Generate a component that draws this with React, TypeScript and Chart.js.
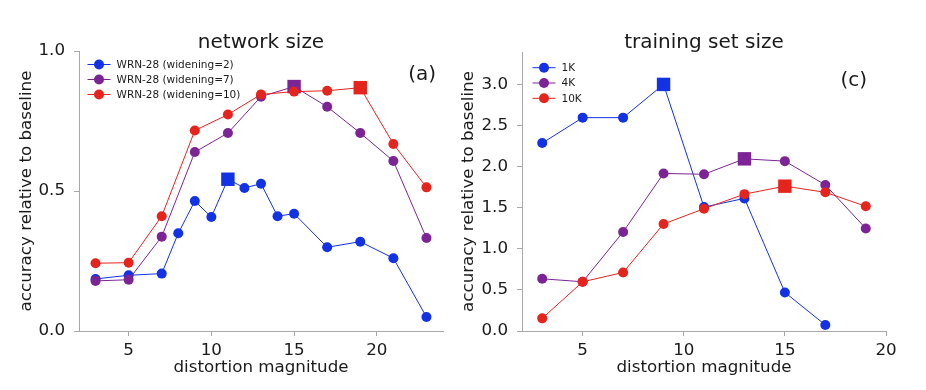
import React, { useEffect, useRef } from 'react';
import { Chart, registerables } from 'chart.js';

Chart.register(...registerables);

// ---------- data: panel (a) network size ----------
const distortionW2 = [3, 5, 7, 8, 9, 10, 11, 12, 13, 14, 15, 17, 19, 21, 23];
const accW2 = [0.186, 0.199, 0.205, 0.349, 0.464, 0.407, 0.542, 0.511, 0.526, 0.41, 0.419, 0.299, 0.319, 0.26, 0.05];
const distortionW7 = [3, 5, 7, 9, 11, 13, 15, 17, 19, 21, 23];
const accW7 = [0.179, 0.183, 0.337, 0.639, 0.707, 0.837, 0.873, 0.801, 0.707, 0.607, 0.332];
const distortionW10 = [3, 5, 7, 9, 11, 13, 15, 17, 19, 21, 23];
const accW10 = [0.242, 0.244, 0.41, 0.716, 0.773, 0.845, 0.855, 0.858, 0.869, 0.668, 0.513];

// ---------- data: panel (c) training set size ----------
const distortion1K = [3, 5, 7, 9, 11, 13, 15, 17];
const acc1K = [2.29, 2.6, 2.6, 3.005, 1.51, 1.616, 0.47, 0.073];
const distortion4K = [3, 5, 7, 9, 11, 13, 15, 17, 19];
const acc4K = [0.636, 0.6, 1.207, 1.92, 1.91, 2.098, 2.07, 1.78, 1.25];
const distortion10K = [3, 5, 7, 9, 11, 13, 15, 17, 19];
const acc10K = [0.154, 0.6, 0.713, 1.304, 1.49, 1.668, 1.765, 1.69, 1.52];

// ---------- ticks ----------
const xTicksA = [5, 10, 15, 20];
const yTicksA = [0, 0.5, 1.0];
const xTicksC = [5, 10, 15, 20];
const yTicksC = [0, 0.5, 1.0, 1.5, 2.0, 2.5, 3.0];

const BLUE = '#1232e4';
const PURPLE = '#7c2496';
const RED = '#e5241e';
const FONT = '"DejaVu Sans", "Liberation Sans", sans-serif';
const SPINE = '#a8a8a8';
const TEXT = '#1a1a1a';

function series(label: string, xs: number[], ys: number[], color: string, order: number) {
  const maxI = ys.indexOf(Math.max(...ys));
  return {
    label,
    data: xs.map((x, i) => ({ x, y: ys[i] })),
    borderColor: color,
    backgroundColor: color,
    borderWidth: 1,
    pointStyle: ys.map((_, i) => (i === maxI ? 'rect' : 'circle')),
    pointRadius: ys.map((_, i) => (i === maxI ? 9.5 : 5)),
    pointHoverRadius: ys.map((_, i) => (i === maxI ? 9.5 : 5)),
    pointBorderWidth: 0,
    pointBackgroundColor: color,
    tension: 0,
    clip: false as any,
    order,
  };
}

type Overlay = {
  title: string;
  titleY: number;
  tag: string;
  tagX: number;
  tagY: number;
  legendX: number;
  legendY: number;
  legendDy: number;
  legendFont: number;
};

function overlayPlugin(o: Overlay) {
  return {
    id: 'overlay',
    afterDraw(chart: any) {
      const ctx = chart.ctx as CanvasRenderingContext2D;
      const area = chart.chartArea;
      ctx.save();
      // title
      ctx.fillStyle = TEXT;
      ctx.font = `20px ${FONT}`;
      ctx.textAlign = 'center';
      ctx.textBaseline = 'alphabetic';
      ctx.fillText(o.title, (area.left + area.right) / 2, o.titleY);
      // tag
      ctx.textAlign = 'right';
      ctx.fillText(o.tag, o.tagX, o.tagY);
      // legend
      ctx.font = `${o.legendFont}px ${FONT}`;
      ctx.textAlign = 'left';
      ctx.textBaseline = 'middle';
      chart.data.datasets.forEach((ds: any, i: number) => {
        const y = o.legendY + i * o.legendDy;
        ctx.strokeStyle = ds.borderColor;
        ctx.lineWidth = 1;
        ctx.beginPath();
        ctx.moveTo(o.legendX - 11.5, y);
        ctx.lineTo(o.legendX + 11.5, y);
        ctx.stroke();
        ctx.fillStyle = ds.borderColor;
        ctx.beginPath();
        ctx.arc(o.legendX, y, 5, 0, Math.PI * 2);
        ctx.fill();
        ctx.fillStyle = TEXT;
        ctx.fillText(ds.label, o.legendX + 17.5, y + 0.5);
      });
      ctx.restore();
    },
  };
}

function makeOptions(p: {
  xmin: number; xmax: number; ymin: number; ymax: number;
  xTicks: number[]; yTicks: number[];
  padTop: number; padRight: number; yWidth: number; yTitlePad: number;
}) {
  const tickFont = { family: FONT, size: 16.7 };
  return {
    animation: false as const,
    responsive: false,
    maintainAspectRatio: false,
    events: [] as any[],
    layout: { padding: { top: p.padTop, right: p.padRight, left: 0, bottom: 0 } },
    plugins: { legend: { display: false }, tooltip: { enabled: false }, title: { display: false } },
    scales: {
      x: {
        type: 'linear' as const,
        position: 'bottom' as const,
        min: p.xmin,
        max: p.xmax,
        afterFit: (s: any) => { s.height = 59; },
        afterBuildTicks: (s: any) => { s.ticks = p.xTicks.map((v) => ({ value: v })); },
        grid: { display: true, drawOnChartArea: false, drawTicks: true, tickLength: 5, color: SPINE, lineWidth: 1 },
        border: { display: true, color: SPINE, width: 1 },
        ticks: { font: tickFont, color: TEXT, padding: 5, maxRotation: 0, callback: (v: any) => String(v) },
        title: {
          display: true,
          text: 'distortion magnitude',
          font: { family: FONT, size: 16.7 },
          color: TEXT,
          padding: { top: 0, bottom: 12 },
        },
      },
      y: {
        type: 'linear' as const,
        position: 'left' as const,
        min: p.ymin,
        max: p.ymax,
        afterFit: (s: any) => { s.width = p.yWidth; },
        afterBuildTicks: (s: any) => { s.ticks = p.yTicks.map((v) => ({ value: v })); },
        grid: { display: true, drawOnChartArea: false, drawTicks: true, tickLength: 5, color: SPINE, lineWidth: 1 },
        border: { display: true, color: SPINE, width: 1 },
        ticks: { font: tickFont, color: TEXT, padding: 9, callback: (v: any) => Number(v).toFixed(1) },
        title: {
          display: true,
          text: 'accuracy relative to baseline',
          font: { family: FONT, size: 16.7 },
          color: TEXT,
          padding: { top: p.yTitlePad, bottom: 0 },
        },
      },
    },
  };
}

function Panel(props: { left: number; width: number; build: (c: HTMLCanvasElement) => Chart }) {
  const ref = useRef<HTMLCanvasElement | null>(null);
  useEffect(() => {
    if (!ref.current) return;
    const chart = props.build(ref.current);
    return () => chart.destroy();
  }, []);
  return (
    <div style={{ position: 'absolute', left: props.left, top: 0, width: props.width, height: 390 }}>
      <canvas ref={ref} width={props.width} height={390} style={{ width: props.width, height: 390, display: 'block' }} />
    </div>
  );
}

export default function App() {
  const buildA = (c: HTMLCanvasElement) =>
    new Chart(c, {
      type: 'line',
      data: {
        datasets: [
          series('WRN-28 (widening=2)', distortionW2, accW2, BLUE, 3),
          series('WRN-28 (widening=7)', distortionW7, accW7, PURPLE, 2),
          series('WRN-28 (widening=10)', distortionW10, accW10, RED, 1),
        ] as any,
      },
      options: makeOptions({
        xmin: 2, xmax: 24, ymin: 0, ymax: 1,
        xTicks: xTicksA, yTicks: yTicksA,
        padTop: 51, padRight: 20, yWidth: 79, yTitlePad: 17,
      }) as any,
      plugins: [
        overlayPlugin({
          title: 'network size', titleY: 47.5,
          tag: '(a)', tagX: 436, tagY: 80,
          legendX: 99, legendY: 64.5, legendDy: 15, legendFont: 10.5,
        }) as any,
      ],
    });

  const buildC = (c: HTMLCanvasElement) =>
    new Chart(c, {
      type: 'line',
      data: {
        datasets: [
          series('1K', distortion1K, acc1K, BLUE, 3),
          series('4K', distortion4K, acc4K, PURPLE, 2),
          series('10K', distortion10K, acc10K, RED, 1),
        ] as any,
      },
      options: makeOptions({
        xmin: 2, xmax: 20, ymin: 0, ymax: 3.4,
        xTicks: xTicksC, yTicks: yTicksC,
        padTop: 52, padRight: 40, yWidth: 72, yTitlePad: 9,
      }) as any,
      plugins: [
        overlayPlugin({
          title: 'training set size', titleY: 47.5,
          tag: '(c)', tagX: 417, tagY: 86,
          legendX: 94, legendY: 67.7, legendDy: 15.3, legendFont: 10.5,
        }) as any,
      ],
    });

  return (
    <div style={{ position: 'absolute', left: 0, top: 0, width: 926, height: 390, background: '#ffffff', overflow: 'hidden' }}>
      <Panel left={0} width={463} build={buildA} />
      <Panel left={450} width={476} build={buildC} />
    </div>
  );
}
